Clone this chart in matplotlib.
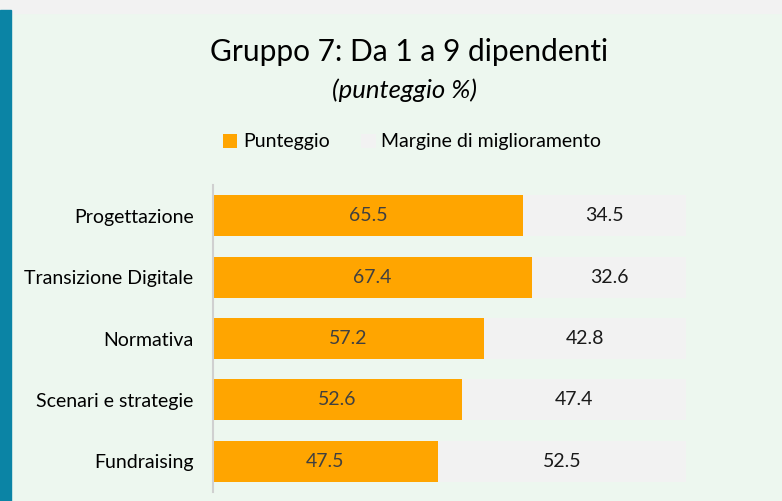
import matplotlib
matplotlib.use("Agg")
import matplotlib.pyplot as plt
from matplotlib.patches import Rectangle

categories = ["Progettazione", "Transizione Digitale", "Normativa", "Scenari e strategie", "Fundraising"]
punteggio = [65.5, 67.4, 57.2, 52.6, 47.5]
margine = [34.5, 32.6, 42.8, 47.4, 52.5]
series_names = ["Punteggio", "Margine di miglioramento"]

ORANGE = "#FFA500"
GRAY = "#F2F2F2"
BG = "#EDF7EF"
TEAL = "#0B84A5"

plt.rcParams['font.family'] = ['Lato', 'DejaVu Sans']

fig = plt.figure(figsize=(7.82, 5.01), dpi=100)
fig.patch.set_facecolor(BG)
fig.patches.append(Rectangle((0, 1 - 13/501), 1, 13/501, transform=fig.transFigure, color="#F2F2F2", zorder=0))
fig.patches.append(Rectangle((0, 0), 11/782, 1 - 10/501, transform=fig.transFigure, color=TEAL, zorder=1))

ax = fig.add_axes([213/782, 1 - 492/501, (686 - 213)/782, (492 - 185)/501])
ax.set_facecolor(BG)
y = list(range(len(categories)))
ax.barh(y, punteggio, height=0.67, color=ORANGE, label=series_names[0])
ax.barh(y, margine, left=punteggio, height=0.67, color=GRAY, label=series_names[1])
for i in y:
    ax.text(punteggio[i] / 2, i, f"{punteggio[i]:.1f}", ha="center", va="center", fontsize=14, color="#404040")
    ax.text(punteggio[i] + margine[i] / 2, i, f"{margine[i]:.1f}", ha="center", va="center", fontsize=14, color="#1A1A1A")

ax.set_xlim(0, 100)
ax.set_ylim(len(categories) - 0.5, -0.5)
ax.set_yticks(y)
ax.set_yticklabels(categories, fontsize=14, color="#000000")
ax.tick_params(axis="y", length=0, pad=14)
ax.set_xticks([])
for s in ["top", "right", "bottom"]:
    ax.spines[s].set_visible(False)
ax.spines["left"].set_color("#D0D0D0")
ax.spines["left"].set_linewidth(1.5)

fig.text(409/782, 1 - 52/501, "Gruppo 7: Da 1 a 9 dipendenti", ha="center", va="center", fontsize=21.5, color="#000000")
fig.text(405/782, 1 - 90/501, "(punteggio %)", ha="center", va="center", fontsize=18.5, style="italic", color="#000000")

leg = fig.legend(loc="center", bbox_to_anchor=(412/782, 1 - 142/501), ncol=2, frameon=False,
                 fontsize=14, handlelength=0.75, handleheight=0.75, handletextpad=0.3, columnspacing=1.6)

fig.savefig("out.png", dpi=100, facecolor=BG)
